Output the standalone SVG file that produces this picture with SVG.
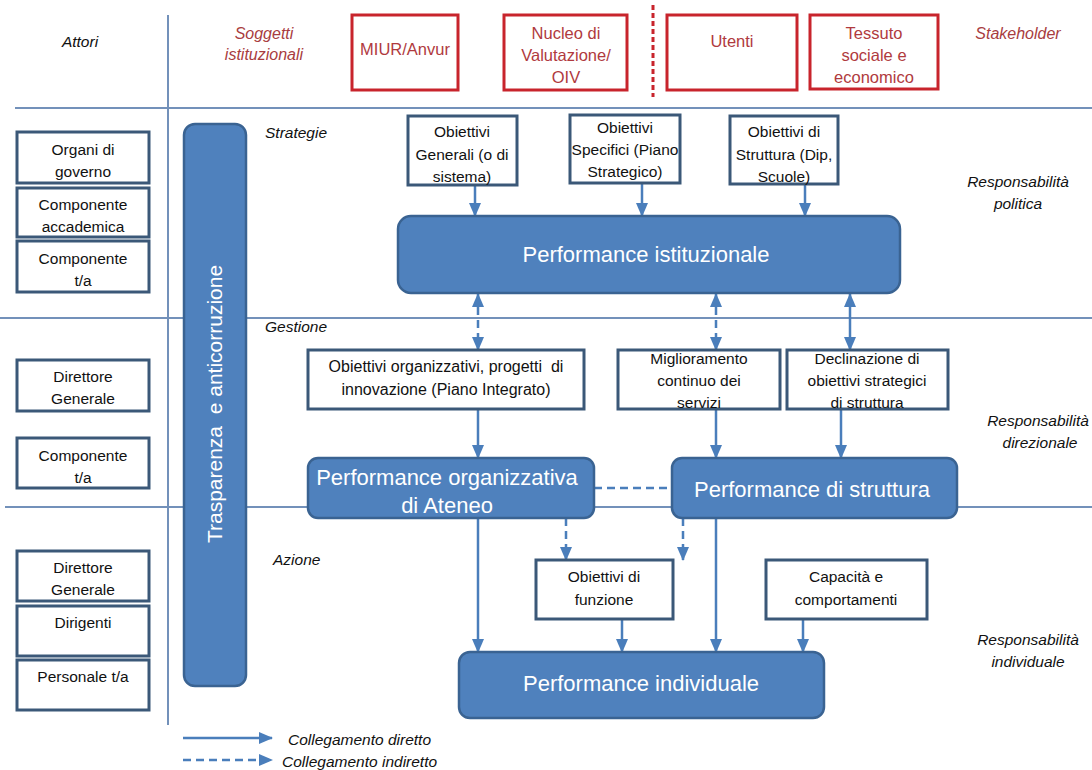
<svg xmlns="http://www.w3.org/2000/svg" width="1092" height="770" viewBox="0 0 1092 770">
<defs>
<marker id="arr" viewBox="0 0 14 12" refX="13" refY="6" markerWidth="14" markerHeight="12" markerUnits="userSpaceOnUse" orient="auto-start-reverse"><path d="M0,0 L14,6 L0,12 z" fill="#4A7EBB"/></marker>
<style>
.grid{stroke:#7391BA;stroke-width:2;fill:none}
.c{stroke:#4A7EBB;stroke-width:2.5;fill:none}
.d{stroke-dasharray:8,5}
.wb{fill:#fff;stroke:#3B5878;stroke-width:3}
.rb{fill:#fff;stroke:#C8242C;stroke-width:3}
.bb{fill:#4F81BD;stroke:#3A6392;stroke-width:2.5}
text{font-family:"Liberation Sans",Arial,sans-serif;text-anchor:middle}
.t{font-size:15.5px;fill:#111}
.rt{font-size:16.5px;fill:#B03A3E}
.it{font-size:15.5px;font-style:italic;fill:#111}
.rit{font-size:16px;font-style:italic;fill:#A83C40}
.big{font-size:22px;fill:#fff}
</style>
</defs>
<rect width="1092" height="770" fill="#fff"/>
<g id="grid">
<line class="grid" x1="15" y1="108" x2="1092" y2="108"/>
<line class="grid" x1="0" y1="318" x2="1092" y2="318"/>
<line class="grid" x1="5" y1="507" x2="1092" y2="507"/>
<line class="grid" x1="168" y1="15" x2="168" y2="725"/>
<line x1="653" y1="5" x2="653" y2="97" stroke="#C8242C" stroke-width="3" stroke-dasharray="5,3"/>
</g>
<g id="labels">
<text class="it" x="80" y="47">Attori</text>
<text class="rit" x="264" y="39">Soggetti</text>
<text class="rit" x="264" y="60">istituzionali</text>
<text class="rit" x="1018" y="39">Stakeholder</text>
<text class="it" x="265" y="138" style="text-anchor:start">Strategie</text>
<text class="it" x="265" y="332" style="text-anchor:start">Gestione</text>
<text class="it" x="273" y="565" style="text-anchor:start">Azione</text>
<text class="it" x="1018" y="187">Responsabilità</text>
<text class="it" x="1018" y="209">politica</text>
<text class="it" x="1038" y="426">Responsabilità</text>
<text class="it" x="1040" y="448">direzionale</text>
<text class="it" x="1028" y="645">Responsabilità</text>
<text class="it" x="1028" y="667">individuale</text>
</g>
<g id="connectors">
<line class="c" x1="475" y1="185" x2="475" y2="216" marker-end="url(#arr)"/>
<line class="c" x1="642" y1="183" x2="642" y2="216" marker-end="url(#arr)"/>
<line class="c" x1="805" y1="184" x2="805" y2="216" marker-end="url(#arr)"/>
<line class="c d" x1="478" y1="294" x2="478" y2="350" marker-start="url(#arr)" marker-end="url(#arr)"/>
<line class="c d" x1="716" y1="294" x2="716" y2="350" marker-start="url(#arr)" marker-end="url(#arr)"/>
<line class="c" x1="850" y1="294" x2="850" y2="350" marker-start="url(#arr)" marker-end="url(#arr)"/>
<line class="c" x1="478" y1="409" x2="478" y2="458" marker-end="url(#arr)"/>
<line class="c" x1="716" y1="409" x2="716" y2="458" marker-end="url(#arr)"/>
<line class="c" x1="841" y1="409" x2="841" y2="458" marker-end="url(#arr)"/>
<line class="c d" x1="594" y1="488" x2="672" y2="488"/>
<line class="c" x1="478" y1="518" x2="478" y2="652" marker-end="url(#arr)"/>
<line class="c d" x1="566" y1="518" x2="566" y2="560" marker-end="url(#arr)"/>
<line class="c d" x1="683" y1="518" x2="683" y2="560" marker-end="url(#arr)"/>
<line class="c" x1="716" y1="518" x2="716" y2="652" marker-end="url(#arr)"/>
<line class="c" x1="622" y1="619" x2="622" y2="652" marker-end="url(#arr)"/>
<line class="c" x1="803" y1="619" x2="803" y2="652" marker-end="url(#arr)"/>
<line class="c" x1="183" y1="738" x2="272" y2="738" marker-end="url(#arr)"/>
<line class="c d" x1="183" y1="760" x2="272" y2="760" marker-end="url(#arr)"/>
</g>
<g id="legend">
<text class="it" x="288" y="745" style="text-anchor:start">Collegamento diretto</text>
<text class="it" x="282" y="767" style="text-anchor:start">Collegamento indiretto</text>
</g>
<g id="miur"><rect class="rb" x="352" y="15" width="106" height="75"/><text class="rt" x="405" y="55">MIUR/Anvur</text></g>
<g id="nucleo"><rect class="rb" x="504" y="15" width="123" height="75"/><text class="rt" x="566" y="39">Nucleo di</text><text class="rt" x="566" y="61">Valutazione/</text><text class="rt" x="566" y="83">OIV</text></g>
<g id="utenti"><rect class="rb" x="667" y="15" width="130" height="75"/><text class="rt" x="732" y="47">Utenti</text></g>
<g id="tessuto"><rect class="rb" x="810" y="15" width="128" height="74"/><text class="rt" x="874" y="39">Tessuto</text><text class="rt" x="874" y="61">sociale e</text><text class="rt" x="874" y="83">economico</text></g>
<g id="organi"><rect class="wb" x="17" y="132" width="132" height="51"/><text class="t" x="83" y="155">Organi di</text><text class="t" x="83" y="177">governo</text></g>
<g id="comp-acc"><rect class="wb" x="17" y="188" width="132" height="49"/><text class="t" x="83" y="210">Componente</text><text class="t" x="83" y="232">accademica</text></g>
<g id="comp-ta1"><rect class="wb" x="17" y="241" width="132" height="51"/><text class="t" x="83" y="264">Componente</text><text class="t" x="83" y="286">t/a</text></g>
<g id="dg1"><rect class="wb" x="17" y="360" width="132" height="51"/><text class="t" x="83" y="382">Direttore</text><text class="t" x="83" y="404">Generale</text></g>
<g id="comp-ta2"><rect class="wb" x="17" y="438" width="132" height="50"/><text class="t" x="83" y="461">Componente</text><text class="t" x="83" y="483">t/a</text></g>
<g id="dg2"><rect class="wb" x="17" y="551" width="132" height="50"/><text class="t" x="83" y="573">Direttore</text><text class="t" x="83" y="595">Generale</text></g>
<g id="dirigenti"><rect class="wb" x="17" y="606" width="132" height="50"/><text class="t" x="83" y="628">Dirigenti</text></g>
<g id="personale"><rect class="wb" x="17" y="660" width="132" height="50"/><text class="t" x="83" y="682">Personale t/a</text></g>
<g id="trasparenza"><rect class="bb" x="184" y="124" width="62" height="562" rx="11"/><text class="big" transform="translate(222,404) rotate(-90)" style="white-space:pre;font-size:21px">Trasparenza  e anticorruzione</text></g>
<g id="obj-gen"><rect class="wb" x="408" y="116" width="109" height="69"/><text class="t" x="462" y="137">Obiettivi</text><text class="t" x="462" y="160">Generali (o di</text><text class="t" x="462" y="182">sistema)</text></g>
<g id="obj-spec"><rect class="wb" x="570" y="115" width="110" height="68"/><text class="t" x="625" y="133">Obiettivi</text><text class="t" x="625" y="155">Specifici (Piano</text><text class="t" x="625" y="177">Strategico)</text></g>
<g id="obj-str"><rect class="wb" x="730" y="116" width="108" height="68"/><text class="t" x="784" y="137">Obiettivi di</text><text class="t" x="784" y="160">Struttura (Dip,</text><text class="t" x="784" y="182">Scuole)</text></g>
<g id="perf-ist"><rect class="bb" x="398" y="216" width="502" height="77" rx="13"/><text class="big" x="646" y="262">Performance istituzionale</text></g>
<g id="obj-org"><rect class="wb" x="308" y="350" width="276" height="59"/><text class="t" x="446" y="372" style="white-space:pre;font-size:16px">Obiettivi organizzativi, progetti  di</text><text class="t" x="446" y="395" style="font-size:16px">innovazione (Piano Integrato)</text></g>
<g id="miglioramento"><rect class="wb" x="618" y="350" width="162" height="59"/><text class="t" x="699" y="364">Miglioramento</text><text class="t" x="699" y="386">continuo dei</text><text class="t" x="699" y="408">servizi</text></g>
<g id="declinazione"><rect class="wb" x="787" y="350" width="161" height="59"/><text class="t" x="867" y="364">Declinazione di</text><text class="t" x="867" y="386">obiettivi strategici</text><text class="t" x="867" y="408">di struttura</text></g>
<g id="perf-org"><rect class="bb" x="308" y="458" width="286" height="60" rx="10"/><text class="big" x="447" y="485">Performance organizzativa</text><text class="big" x="447" y="513">di Ateneo</text></g>
<g id="perf-str"><rect class="bb" x="672" y="458" width="285" height="60" rx="10"/><text class="big" x="812" y="497">Performance di struttura</text></g>
<g id="obj-funz"><rect class="wb" x="536" y="560" width="137" height="59"/><text class="t" x="604" y="582">Obiettivi di</text><text class="t" x="604" y="605">funzione</text></g>
<g id="capacita"><rect class="wb" x="766" y="560" width="161" height="59"/><text class="t" x="846" y="582">Capacità e</text><text class="t" x="846" y="605">comportamenti</text></g>
<g id="perf-ind"><rect class="bb" x="459" y="652" width="365" height="66" rx="11"/><text class="big" x="641" y="691">Performance individuale</text></g>
</svg>
